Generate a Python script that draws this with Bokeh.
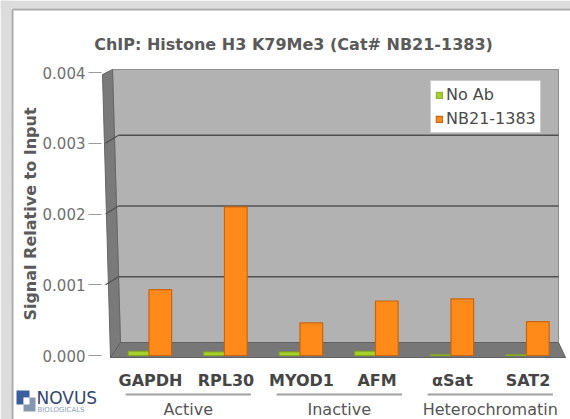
import math
from bokeh.plotting import figure
from bokeh.models import (Range1d, FixedTicker, NumeralTickFormatter, LinearAxis,
                          Legend, LegendItem, ColumnDataSource)
from bokeh.core.properties import value
from bokeh.embed import file_html
from bokeh.resources import INLINE

# ---------------- data ----------------
categories = ["GAPDH", "RPL30", "MYOD1", "AFM", "\u03b1Sat", "SAT2"]
series_names = ["No Ab", "NB21-1383"]
no_ab = [0.00006, 0.00005, 0.00005, 0.00006, 0.00001, 0.00001]
nb21_1383 = [0.00093, 0.00210, 0.00046, 0.00077, 0.00080, 0.00048]
groups = ["Active", "Inactive", "Heterochromatin"]
group_first = [0, 2, 4]
group_last = [1, 3, 5]
y_ticks = [0.000, 0.001, 0.002, 0.003, 0.004]
title_text = "ChIP: Histone H3 K79Me3 (Cat# NB21-1383)"
y_title = "Signal Relative to Input"
logo_name = "NOVUS"
logo_sub = "BIOLOGICALS"

# ---------------- style / geometry ----------------
FONT = "DejaVu Sans"
GREEN = "#a6d12a"
ORANGE = "#ff8a1a"
WALL = "#b2b2b2"
SIDE = "#7a7a7a"
FLOOR = "#777777"
GRID = "#505050"

W, H = 570, 419
X0_PX, STEP_PX = 150.0, 75.5      # pixel position of first category, spacing
Y0_PX, PX_PER_UNIT = 355.0, 70750.0


def dx(px):
    return (px - X0_PX) / STEP_PX


def dy(py):
    return (Y0_PX - py) / PX_PER_UNIT


p = figure(width=W, height=H, output_backend="svg", toolbar_location=None,
           x_range=Range1d(dx(0), dx(W)), y_range=Range1d(dy(H), dy(0)),
           x_axis_location=None, y_axis_location=None,
           min_border_left=0, min_border_right=0, min_border_top=0,
           min_border_bottom=0)
p.title.visible = False
p.outline_line_color = None
p.background_fill_color = "white"
p.border_fill_color = "white"
p.xgrid.visible = False
p.ygrid.visible = False

# ---- outer frame strips (page look) ----
p.quad(left=[dx(0)], right=[dx(11)], bottom=[dy(H)], top=[dy(0)],
       fill_color="#dcdcdc", line_color=None)
p.quad(left=[dx(0)], right=[dx(W)], bottom=[dy(8)], top=[dy(0)],
       fill_color="#dcdcdc", line_color=None)
p.segment(x0=[dx(12)], x1=[dx(12)], y0=[dy(H)], y1=[dy(9)],
          line_color="#aaaaaa", line_width=2)
p.segment(x0=[dx(12)], x1=[dx(W)], y0=[dy(9)], y1=[dy(9)],
          line_color="#aaaaaa", line_width=2)

# ---- 3-D like chart box ----
top_v = y_ticks[-1]
back_bottom = dy(342)
grid_shift = dy(347)      # back-wall offset of gridlines
p.patch(x=[dx(112), dx(558), dx(558), dx(120)],
        y=[dy(69), dy(69), back_bottom, back_bottom],
        fill_color=WALL, line_color="#8e8e8e", line_width=1)
p.patch(x=[dx(110), dx(102), dx(112), dx(120)],
        y=[dy(357), dy(74), dy(69), back_bottom],
        fill_color=SIDE, line_color="#666666", line_width=1)
p.patch(x=[dx(110), dx(565), dx(558), dx(120)],
        y=[dy(357), dy(357), back_bottom, back_bottom],
        fill_color=FLOOR, line_color="#606060", line_width=1)
grid_vals = [t + grid_shift for t in y_ticks[1:-1]]
n_g = len(grid_vals)
p.segment(x0=[dx(118)] * n_g, x1=[dx(558)] * n_g, y0=grid_vals, y1=grid_vals,
          line_color=GRID, line_width=1.5)
p.segment(x0=[dx(105)] * n_g, x1=[dx(118)] * n_g, y0=y_ticks[1:-1],
          y1=grid_vals, line_color=GRID, line_width=1.2)

# ---- y axis (real axis at fixed location) ----
ax = LinearAxis(fixed_location=dx(101), bounds=(y_ticks[0], y_ticks[-1]))
ax.ticker = FixedTicker(ticks=y_ticks)
ax.formatter = NumeralTickFormatter(format="0.000")
ax.axis_line_color = None
ax.major_tick_line_color = "#9a9a9a"
ax.major_tick_out = 13
ax.major_tick_in = 0
ax.minor_tick_line_color = None
ax.major_label_standoff = 3
ax.major_label_text_font = FONT
ax.major_label_text_font_size = "15px"
ax.major_label_text_color = "#707070"
ax.axis_label = y_title
ax.axis_label_text_font = FONT
ax.axis_label_text_font_size = "16px"
ax.axis_label_text_font_style = "bold"
ax.axis_label_text_color = "#5a5a5a"
ax.axis_label_standoff = 0
p.add_layout(ax, "left")

# ---- bars ----
xs = list(range(len(categories)))
src = ColumnDataSource(dict(
    x_no=[x - 0.155 for x in xs], x_nb=[x + 0.13 for x in xs],
    no_ab=no_ab, nb=nb21_1383))
r_no = p.vbar(x="x_no", top="no_ab", bottom=0, width=0.28, source=src,
              fill_color=GREEN, line_color="#86aa1c", line_width=1)
r_nb = p.vbar(x="x_nb", top="nb", bottom=0, width=0.30, source=src,
              fill_color=ORANGE, line_color="#c9650c", line_width=1.2)

# ---- category labels ----
cat_src = ColumnDataSource(dict(x=xs, y=[dy(380)] * len(xs), text=categories))
p.text(x="x", y="y", text="text", source=cat_src, text_font=value(FONT),
       text_font_size="16px", text_font_style="bold", text_color="#454545",
       text_align="center", text_baseline="middle")

# ---- group labels with underlines ----
g_mid = [(a + b) / 2 for a, b in zip(group_first, group_last)]
g_left = [a - 0.5 + 0.17 for a in group_first]
g_right = [b + 0.5 - 0.17 for b in group_last]
p.segment(x0=g_left, x1=g_right, y0=[dy(394)] * 3, y1=[dy(394)] * 3,
          line_color="#a0a0a0", line_width=2)
grp_src = ColumnDataSource(dict(x=g_mid, y=[dy(409)] * 3, text=groups))
p.text(x="x", y="y", text="text", source=grp_src, text_font=value(FONT),
       text_font_size="16px", text_color="#555555",
       text_align="center", text_baseline="middle")

# ---- title ----
p.text(x=[dx(293)], y=[dy(44)], text=[title_text], text_font=value(FONT),
       text_font_size="16px", text_font_style="bold", text_color="#5a5a5a",
       text_align="center", text_baseline="middle")

# ---- Novus logo ----
p.quad(left=[dx(16)], right=[dx(29)], bottom=[dy(404)], top=[dy(390)],
       fill_color="#3a5f9e", line_color=None)
p.quad(left=[dx(23)], right=[dx(35)], bottom=[dy(411)], top=[dy(397)],
       fill_color="#8796b0", line_color=None)
p.quad(left=[dx(23)], right=[dx(29)], bottom=[dy(404)], top=[dy(397)],
       fill_color="white", line_color=None)
p.text(x=[dx(36)], y=[dy(397)], text=[logo_name], text_font=value(FONT),
       text_font_size="17px", text_color="#34456e",
       text_align="left", text_baseline="middle")
p.text(x=[dx(37)], y=[dy(409)], text=[logo_sub], text_font=value(FONT),
       text_font_size="7px", text_color="#8fa0b8",
       text_align="left", text_baseline="middle")

# ---- legend ----
legend = Legend(items=[LegendItem(label=series_names[0], renderers=[r_no]),
                       LegendItem(label=series_names[1], renderers=[r_nb])],
                location=(430, H - 133), orientation="vertical",
                glyph_width=8, glyph_height=8, label_standoff=3,
                spacing=5, padding=4, margin=0,
                label_text_font=FONT, label_text_font_size="16px",
                label_text_color="#4a4a4a",
                border_line_color="#9a9a9a", border_line_width=1,
                background_fill_color="white", background_fill_alpha=1.0)
p.add_layout(legend, "center")

open("out.html", "w").write(file_html(p, INLINE))
